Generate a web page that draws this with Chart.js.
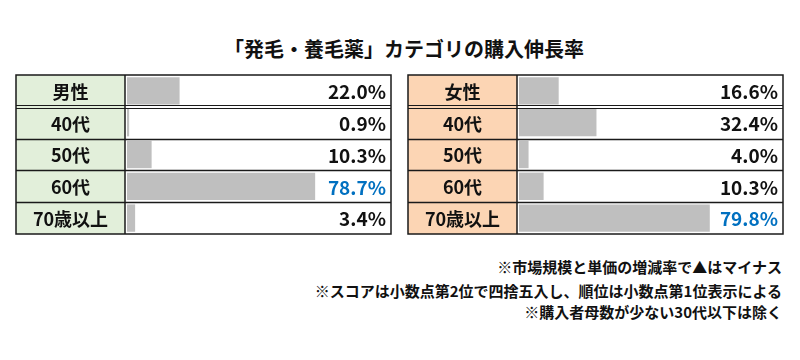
<!DOCTYPE html>
<html lang="ja">
<head>
<meta charset="utf-8">
<script src="https://cdn.jsdelivr.net/npm/chart.js@4"></script>
<style>
  body { margin: 0; width: 800px; height: 360px; background: #fff; position: relative; overflow: hidden;
         font-family: "Noto Sans CJK JP", "Noto Sans", sans-serif; }
  #title { position: absolute; top: 34px; left: 0; width: 808px; text-align: center;
           font-size: 20px; font-weight: bold; color: #111; }
  .box { position: absolute; top: 73px; width: 380px; height: 164px; }
  .note { position: absolute; right: 18px; text-align: right; white-space: nowrap;
          font-size: 15px; font-weight: bold; line-height: 16px; color: #111; }
</style>
</head>
<body>
<div id="title">「発毛・養毛薬」カテゴリの購入伸長率</div>
<div class="box" style="left:14px"><canvas id="maleChart" width="380" height="164"></canvas></div>
<div class="box" style="left:406px"><canvas id="femaleChart" width="380" height="164"></canvas></div>
<div class="note" style="top:259px">※市場規模と単価の増減率で▲はマイナス</div>
<div class="note" style="top:283px">※スコアは小数点第2位で四捨五入し、順位は小数点第1位表示による</div>
<div class="note" style="top:304px">※購入者母数が少ない30代以下は除く</div>
<script>
const maleLabels = ['男性', '40代', '50代', '60代', '70歳以上'];
const maleValues = [22.0, 0.9, 10.3, 78.7, 3.4];
const femaleLabels = ['女性', '40代', '50代', '60代', '70歳以上'];
const femaleValues = [16.6, 32.4, 4.0, 10.3, 79.8];

const font = '"Noto Sans CJK JP", "Noto Sans", sans-serif';

// draws the label column, grid lines and value texts around the bars
const tablePlugin = {
  id: 'table',
  beforeDatasetsDraw(chart, args, opts) {
    const { ctx, chartArea } = chart;
    ctx.save();
    ctx.fillStyle = '#fff';
    ctx.fillRect(opts.labelRight, chartArea.top, chartArea.right - opts.labelRight, chartArea.bottom - chartArea.top);
    ctx.fillStyle = opts.labelColor;
    ctx.fillRect(opts.left, chartArea.top, opts.labelRight - opts.left, chartArea.bottom - chartArea.top);
    ctx.restore();
  },
  afterDatasetsDraw(chart, args, opts) {
    const { ctx, chartArea, scales } = chart;
    const n = chart.data.labels.length;
    const rowH = (chartArea.bottom - chartArea.top) / n;
    const values = chart.data.datasets[0].data;
    const maxIdx = values.indexOf(Math.max(...values.slice(1)));
    ctx.save();
    ctx.strokeStyle = '#1a1a1a';
    ctx.lineWidth = 1.5;
    ctx.strokeRect(opts.left, chartArea.top, opts.right - opts.left, chartArea.bottom - chartArea.top);
    ctx.beginPath();
    ctx.moveTo(opts.labelRight, chartArea.top);
    ctx.lineTo(opts.labelRight, chartArea.bottom);
    for (let i = 2; i < n; i++) {
      const y = Math.round(chartArea.top + i * rowH) + 0.5;
      ctx.moveTo(opts.left, y);
      ctx.lineTo(opts.right, y);
    }
    ctx.stroke();
    // double line under the header row
    ctx.lineWidth = 1;
    const hy = Math.round(chartArea.top + rowH);
    ctx.beginPath();
    ctx.moveTo(opts.left, hy - 1.5); ctx.lineTo(opts.right, hy - 1.5);
    ctx.moveTo(opts.left, hy + 1.5); ctx.lineTo(opts.right, hy + 1.5);
    ctx.stroke();

    ctx.textBaseline = 'middle';
    chart.data.labels.forEach((lab, i) => {
      const y = scales.y.getPixelForValue(i) + 1;
      ctx.fillStyle = '#111';
      ctx.font = 'bold 18px ' + font;
      ctx.textAlign = 'center';
      ctx.fillText(lab, (opts.left + opts.labelRight) / 2, y);
      ctx.font = 'bold 19px ' + font;
      ctx.textAlign = 'right';
      ctx.fillStyle = i === maxIdx ? '#0070C0' : '#111';
      ctx.fillText(values[i].toFixed(1) + '%', opts.right - 5, y);
    });
    ctx.restore();
  }
};

function makeChart(id, labels, values, labelColor) {
  return new Chart(document.getElementById(id).getContext('2d'), {
    type: 'bar',
    data: {
      labels: labels,
      datasets: [{ data: values, backgroundColor: '#BFBFBF', barPercentage: 0.86, categoryPercentage: 1 }]
    },
    options: {
      indexAxis: 'y',
      responsive: false,
      animation: false,
      layout: { padding: { left: 113, right: 4, top: 2, bottom: 3 } },
      scales: {
        x: { display: false, min: 0, max: 110 },
        y: { display: false }
      },
      plugins: {
        legend: { display: false },
        tooltip: { enabled: false },
        table: { left: 2, labelRight: 111, right: 377, labelColor: labelColor }
      }
    },
    plugins: [tablePlugin]
  });
}

makeChart('maleChart', maleLabels, maleValues, '#E2EFDA');
makeChart('femaleChart', femaleLabels, femaleValues, '#FCD5B4');
</script>
</body>
</html>
